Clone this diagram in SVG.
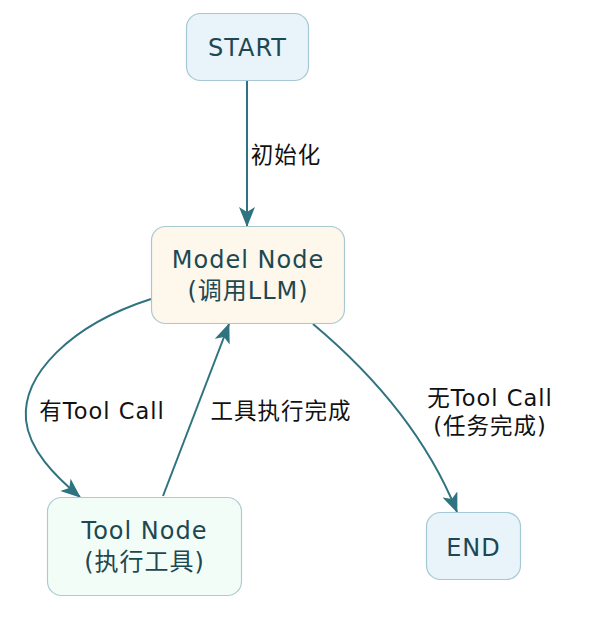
<svg xmlns="http://www.w3.org/2000/svg" width="593" height="621" viewBox="0 0 593 621">
<style>
.node rect{stroke-width:1.2}
.nl{font-family:"DejaVu Sans","Noto Sans CJK SC",sans-serif;font-size:24px;fill:#1d4852;text-anchor:middle;letter-spacing:1px}
.el{font-family:"DejaVu Sans","Noto Sans CJK SC",sans-serif;font-size:22.5px;fill:#111;text-anchor:middle;letter-spacing:1px}
.edge{fill:none;stroke:#2f7380;stroke-width:2}
</style>
<defs>
<marker id="arr" viewBox="0 0 20 16" refX="19" refY="8" markerWidth="20" markerHeight="16" markerUnits="userSpaceOnUse" orient="auto">
<path d="M0,0 L20,8 L0,16 L5,8 z" fill="#2f7380"/>
</marker>
</defs>
<rect width="593" height="621" fill="#fff"/>
<g id="connectors">
<path class="edge" d="M247,81 L247,226" marker-end="url(#arr)"/>
<path class="edge" d="M151,299 C70,325 22,375 26,420 C29,450 55,476 80,497" marker-end="url(#arr)"/>
<path class="edge" d="M163,496 L229,324" marker-end="url(#arr)"/>
<path class="edge" d="M313,324 C350,355 420,420 457,512" marker-end="url(#arr)"/>
<text class="el" x="286" y="163">初始化</text>
<text class="el" x="102" y="419">有Tool Call</text>
<text class="el" x="281" y="419">工具执行完成</text>
<text class="el" x="490" y="406">无Tool Call</text>
<text class="el" x="490" y="434">(任务完成)</text>
</g>
<g id="start" class="node">
<rect x="186.5" y="13.5" width="122" height="67" rx="14" fill="#e8f3fa" stroke="#a4c8d4"/>
<text class="nl" x="247.5" y="56">START</text>
</g>
<g id="model" class="node">
<rect x="151.5" y="226.5" width="193" height="97" rx="14" fill="#fef7ec" stroke="#a9c9d1"/>
<text class="nl" x="248" y="268">Model Node</text>
<text class="nl" x="248" y="299">(调用LLM)</text>
</g>
<g id="tool" class="node">
<rect x="47.5" y="497.5" width="194" height="98" rx="14" fill="#f3fdf7" stroke="#a9cdd4"/>
<text class="nl" x="144.5" y="539">Tool Node</text>
<text class="nl" x="144.5" y="570">(执行工具)</text>
</g>
<g id="end" class="node">
<rect x="426.5" y="512.5" width="94" height="67" rx="14" fill="#e8f3fa" stroke="#a4c8d4"/>
<text class="nl" x="473.5" y="556">END</text>
</g>
</svg>
